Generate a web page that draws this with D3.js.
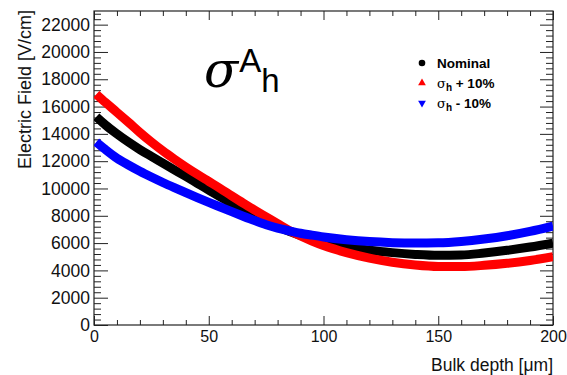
<!DOCTYPE html>
<html>
<head>
<meta charset="utf-8">
<script src="https://cdn.jsdelivr.net/npm/d3@7"></script>
<style>
  html, body { margin: 0; padding: 0; background: #fff; }
  svg { display: block; }
  text { font-family: "Liberation Sans", Arial, Helvetica, sans-serif; }
</style>
</head>
<body>
<svg id="chart" width="567" height="375"></svg>
<script>
// ---- data ----
const depth = [1, 5, 10, 15, 20, 25, 30, 35, 40, 45, 50, 55, 60, 65, 70, 75, 80, 85, 90, 95, 100, 110, 120, 130, 140, 150, 160, 170, 180, 190, 200];
const nominal = [15250, 14650, 14000, 13400, 12850, 12350, 11860, 11370, 10880, 10380, 9880, 9380, 8900, 8450, 8000, 7580, 7200, 6860, 6560, 6300, 6080, 5730, 5480, 5300, 5170, 5100, 5120, 5270, 5470, 5710, 6000];
const plus10 = [16900, 16300, 15580, 14850, 14100, 13400, 12750, 12150, 11580, 11040, 10520, 10000, 9460, 8930, 8420, 7920, 7420, 6930, 6520, 6150, 5820, 5300, 4900, 4600, 4400, 4290, 4280, 4370, 4520, 4730, 5000];
const minus10 = [13400, 12850, 12220, 11720, 11260, 10840, 10440, 10060, 9690, 9330, 8980, 8640, 8300, 7970, 7650, 7350, 7100, 6900, 6720, 6580, 6450, 6250, 6110, 6030, 6000, 6020, 6120, 6300, 6540, 6860, 7250];
const xTicks = [0, 50, 100, 150, 200];
const yTicks = [0, 2000, 4000, 6000, 8000, 10000, 12000, 14000, 16000, 18000, 20000, 22000];
const seriesNames = ["Nominal", "+ 10%", "- 10%"];
const seriesColors = ["#000000", "#ff0000", "#0000ff"];

// ---- layout ----
const L = 94, R = 553, T = 11, B = 325;
const svg = d3.select("#chart");
const x = d3.scaleLinear().domain([0, 200]).range([L, R]);
const y = d3.scaleLinear().domain([0, 23000]).range([B, T]);

const xMinor = d3.range(0, 201, 10).filter(v => v % 50 !== 0);
const yMinor = d3.range(0, 23001, 400).filter(v => v % 2000 !== 0);

const axCol = "#222";
function styleAxis(g) {
  g.select(".domain").remove();
  g.selectAll(".tick line").attr("stroke", axCol).attr("stroke-width", 1);
  g.selectAll(".tick text").attr("fill", "#111");
}

// bottom
svg.append("g").attr("transform", `translate(0,${B})`)
  .call(d3.axisBottom(x).tickValues(xTicks).tickFormat(d3.format("d")).tickSizeInner(-9).tickSizeOuter(0).tickPadding(6))
  .call(styleAxis).call(g => g.selectAll("text").attr("font-size", 16).attr("dy", "0.71em"));
svg.append("g").attr("transform", `translate(0,${B})`)
  .call(d3.axisBottom(x).tickValues(xMinor).tickFormat("").tickSizeInner(-5).tickSizeOuter(0))
  .call(styleAxis);
// top
svg.append("g").attr("transform", `translate(0,${T})`)
  .call(d3.axisTop(x).tickValues(xTicks).tickFormat("").tickSizeInner(-9).tickSizeOuter(0))
  .call(styleAxis);
svg.append("g").attr("transform", `translate(0,${T})`)
  .call(d3.axisTop(x).tickValues(xMinor).tickFormat("").tickSizeInner(-5).tickSizeOuter(0))
  .call(styleAxis);
// left
svg.append("g").attr("transform", `translate(${L},0)`)
  .call(d3.axisLeft(y).tickValues(yTicks).tickFormat(d3.format("d")).tickSizeInner(-14).tickSizeOuter(0).tickPadding(4))
  .call(styleAxis).call(g => g.selectAll("text").attr("font-size", 17.5));
svg.append("g").attr("transform", `translate(${L},0)`)
  .call(d3.axisLeft(y).tickValues(yMinor).tickFormat("").tickSizeInner(-7).tickSizeOuter(0))
  .call(styleAxis);
// right
svg.append("g").attr("transform", `translate(${R},0)`)
  .call(d3.axisRight(y).tickValues(yTicks).tickFormat("").tickSizeInner(-13).tickSizeOuter(0))
  .call(styleAxis);
svg.append("g").attr("transform", `translate(${R},0)`)
  .call(d3.axisRight(y).tickValues(yMinor).tickFormat("").tickSizeInner(-7).tickSizeOuter(0))
  .call(styleAxis);

// frame
svg.append("rect").attr("x", L).attr("y", T).attr("width", R - L).attr("height", B - T)
  .attr("fill", "none").attr("stroke", axCol).attr("stroke-width", 1.2);

// curves
svg.append("clipPath").attr("id", "plotclip").append("rect")
  .attr("x", L).attr("y", T).attr("width", R - L).attr("height", B - T);
const line = d3.line().x(d => x(d[0])).y(d => y(d[1])).curve(d3.curveMonotoneX);
const series = [nominal, plus10, minus10];
const plot = svg.append("g").attr("clip-path", "url(#plotclip)");
series.forEach((vals, i) => {
  const pts = depth.map((d, j) => [d, vals[j]]);
  plot.append("path").datum(pts).attr("d", line)
    .attr("fill", "none").attr("stroke", seriesColors[i])
    .attr("stroke-width", 9).attr("stroke-linecap", "butt");
});

// axis titles
svg.append("text").attr("x", R).attr("y", 371).attr("text-anchor", "end")
  .attr("font-size", 17.5).attr("fill", "#111").text("Bulk depth [\u03bcm]");
svg.append("text").attr("transform", "translate(31,10) rotate(-90)").attr("text-anchor", "end")
  .attr("font-size", 18).attr("fill", "#111").text("Electric Field [V/cm]");

// big label sigma^A_h
const title = svg.append("text").attr("x", 204).attr("y", 87).attr("fill", "#000");
title.append("tspan").attr("font-size", 50).attr("font-family", "DejaVu Serif").attr("font-style", "italic").text("\u03c3");
title.append("tspan").attr("font-size", 33).attr("dy", -15).attr("dx", 1).text("A");
title.append("tspan").attr("font-size", 33).attr("dy", 20).text("h");

// legend
const lx = 422, ly = [63, 83, 103];
svg.append("circle").attr("cx", lx).attr("cy", ly[0]).attr("r", 3.3).attr("fill", seriesColors[0]);
const tri = d3.symbol().type(d3.symbolTriangle).size(26);
svg.append("path").attr("d", tri).attr("transform", `translate(${lx},${ly[1]})`).attr("fill", seriesColors[1]);
svg.append("path").attr("d", tri).attr("transform", `translate(${lx},${ly[2]}) rotate(180)`).attr("fill", seriesColors[2]);
seriesNames.forEach((name, i) => {
  const t = svg.append("text").attr("x", 437).attr("y", ly[i] + 4.5).attr("font-size", 13.5)
    .attr("font-weight", "bold").attr("fill", "#000");
  if (i === 0) { t.text(name); }
  else {
    t.append("tspan").attr("font-weight", "normal").attr("font-family", "DejaVu Serif").attr("font-size", 13).text("\u03c3");
    t.append("tspan").attr("font-size", 10).attr("dy", 3).text("h");
    t.append("tspan").attr("dy", -3).text(" " + name);
  }
});
</script>
</body>
</html>
